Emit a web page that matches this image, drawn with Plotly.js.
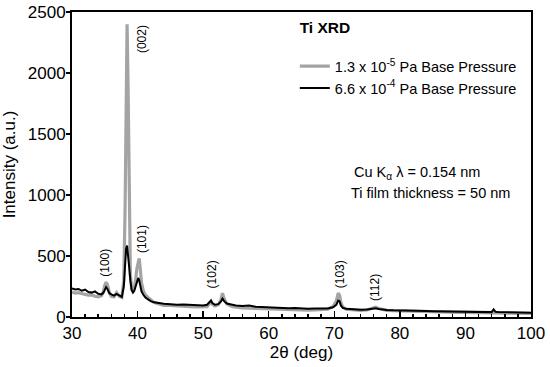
<!DOCTYPE html>
<html><head><meta charset="utf-8">
<script src="https://cdn.plot.ly/plotly-3.0.1.min.js"></script>
<style>html,body{margin:0;padding:0;background:#fff}#c{width:550px;height:367px}</style>
</head><body><div id="c"></div>
<script>
var twoTheta = [30,30.5,31,31.5,32,32.5,33,33.5,34,34.5,34.8,35.0,35.2,35.4,35.7,36,36.4,36.8,37.2,37.6,37.9,38.1,38.25,38.4,38.55,38.7,38.9,39.1,39.3,39.5,39.7,39.9,40.1,40.25,40.4,40.6,40.9,41.2,41.6,42,42.5,43,43.5,44,45,46,47,48,49,50,50.6,51.0,51.2,51.4,51.8,52.3,52.7,52.95,53.2,53.6,54,54.5,55,56,57,58,59,60,61,62,63,64,65,66,67,68,69,69.8,70.3,70.6,70.8,71.0,71.3,71.8,72.5,73,74,75,75.8,76.3,76.8,77.5,78,79,80,81,82,83,84,85,86,87,88,89,90,91,92,93,94,94.3,94.6,95,96,97,98,99,100];
var lowPressure = [205,195,200,190,185,180,182,170,165,175,210,260,285,265,200,170,165,200,170,160,300,900,1800,2400,1900,900,350,230,220,240,300,400,470,480,400,280,210,180,160,140,120,110,100,95,95,90,88,85,82,80,85,110,125,105,90,100,140,195,150,110,95,85,80,75,72,70,68,66,63,62,60,60,58,57,58,60,65,85,130,195,180,120,80,65,60,58,55,58,70,80,70,58,55,52,50,50,48,47,45,45,42,40,40,38,38,36,35,35,34,34,33,33,32,32,31,30,30];
var highPressure = [235,225,230,215,225,205,200,210,190,185,200,230,245,230,195,185,175,190,175,165,250,420,560,585,520,420,300,220,200,215,250,290,320,300,260,210,180,160,145,130,120,115,110,108,105,100,102,98,100,95,100,125,135,115,100,105,125,150,130,110,105,100,95,90,95,85,82,80,78,75,72,74,70,68,70,68,70,80,100,135,130,95,75,68,65,62,60,62,68,72,66,60,58,55,55,52,52,50,50,48,47,45,45,44,43,42,40,40,40,62,42,40,38,38,36,36,35];
var seriesNames = ['1.3 x 10<sup>-5</sup> Pa Base Pressure','6.6 x 10<sup>-4</sup> Pa Base Pressure'];
var peakLabels = ['(100)','(002)','(101)','(102)','(103)','(112)'];
var peakX = [35.0,40.7,40.7,51.4,70.9,76.2];
var peakY = [443,2279,640,352,352,246];
var xTicks = [30,40,50,60,70,80,90,100];
var yTicks = [0,500,1000,1500,2000,2500];

var F = 'Arial, "Liberation Sans", sans-serif';
var traces = [
  {x: twoTheta, y: lowPressure, mode:'lines', name: seriesNames[0], line:{color:'#a4a4a4', width:3.2}},
  {x: twoTheta, y: highPressure, mode:'lines', name: seriesNames[1], line:{color:'#000', width:2}}
];
var ann = peakLabels.map(function(t,i){
  return {x: peakX[i], y: peakY[i], xref:'x', yref:'y', text:t, showarrow:false, textangle:-90,
    font:{family:F, size:12, color:'#000'}};
});
ann.push({x:82.6, y:1180, xref:'x', yref:'y', text:'Cu K<sub>α</sub> λ = 0.154 nm', showarrow:false, font:{family:F,size:14.5,color:'#000'}});
ann.push({x:84.6, y:1016, xref:'x', yref:'y', text:'Ti film thickness = 50 nm', showarrow:false, font:{family:F,size:14.5,color:'#000'}});

var layout = {
  width:550, height:367,
  margin:{l:72, r:19, t:12, b:50},
  paper_bgcolor:'#fff', plot_bgcolor:'#fff',
  showlegend:true,
  title:{text:'<b>Ti XRD</b>', font:{family:F, size:15.5, color:'#000'}, xref:'paper', x:0.551, xanchor:'center', y:0.926, yanchor:'middle'},
  legend:{x:0.98, xanchor:'right', y:0.875, yanchor:'top', bgcolor:'rgba(0,0,0,0)', font:{family:F,size:14.5,color:'#000'}, itemwidth:30, tracegroupgap:0},
  xaxis:{range:[30,100], tickvals:xTicks, ticks:'inside', ticklen:6, tickwidth:1.5, tickcolor:'#000',
    minor:{dtick:2, ticks:'inside', ticklen:3, tickwidth:1.5, tickcolor:'#000'},
    showline:true, linecolor:'#000', linewidth:2, mirror:true, showgrid:false, zeroline:false,
    tickfont:{family:F, size:17, color:'#000'},
    title:{text:'2θ (deg)', font:{family:F, size:17, color:'#000'}, standoff:0}},
  yaxis:{range:[0,2500], tickvals:yTicks, ticks:'outside', ticklen:4, tickwidth:1.5, tickcolor:'#000',
    ticklabelstandoff:-3,
    showline:true, linecolor:'#000', linewidth:2, mirror:true, showgrid:false, zeroline:false,
    tickfont:{family:F, size:17, color:'#000'},
    title:{text:'Intensity (a.u.)', font:{family:F, size:17, color:'#000'}, standoff:9}},
  annotations: ann
};
Plotly.newPlot('c', traces, layout, {displayModeBar:false, staticPlot:true});
</script></body></html>
